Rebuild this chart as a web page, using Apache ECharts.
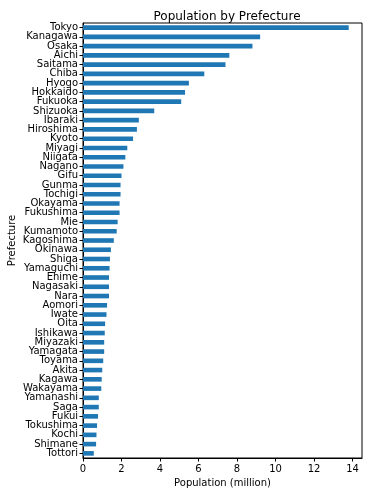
<!DOCTYPE html>
<html><head><meta charset="utf-8">
<script src="https://cdn.jsdelivr.net/npm/echarts@6/dist/echarts.min.js"></script>
<style>html,body{margin:0;padding:0;background:#fff}#c{width:369px;height:496px}</style>
</head><body><div id="c"></div>
<script>
const prefectures = ["Tokyo","Kanagawa","Osaka","Aichi","Saitama","Chiba","Hyogo","Hokkaido","Fukuoka","Shizuoka","Ibaraki","Hiroshima","Kyoto","Miyagi","Niigata","Nagano","Gifu","Gunma","Tochigi","Okayama","Fukushima","Mie","Kumamoto","Kagoshima","Okinawa","Shiga","Yamaguchi","Ehime","Nagasaki","Nara","Aomori","Iwate","Oita","Ishikawa","Miyazaki","Yamagata","Toyama","Akita","Kagawa","Wakayama","Yamanashi","Saga","Fukui","Tokushima","Kochi","Shimane","Tottori"];
const population = [13.8,9.2,8.8,7.6,7.4,6.3,5.5,5.3,5.1,3.7,2.9,2.8,2.6,2.3,2.2,2.1,2.0,1.95,1.95,1.9,1.9,1.8,1.75,1.6,1.45,1.4,1.38,1.35,1.35,1.35,1.25,1.22,1.15,1.13,1.1,1.1,1.05,1.0,0.97,0.95,0.82,0.82,0.78,0.73,0.7,0.68,0.56];
const xTicks = [0,2,4,6,8,10,12,14];
const titleText = "Population by Prefecture";

const chart = echarts.init(document.getElementById('c'), null, {renderer:'canvas'});
const font = "DejaVu Sans";
chart.setOption({
  animation:false,
  backgroundColor:'#fff',
  title:{text:titleText,left:222,textAlign:'center',top:6,textStyle:{fontFamily:font,fontSize:12,fontWeight:'normal',color:'#000'}},
  grid:{left:83,right:7,top:23,bottom:38,containLabel:false,outerBoundsMode:'none',show:true,borderColor:'#000',borderWidth:1,backgroundColor:'transparent'},
  xAxis:{type:'value',min:0,max:14.49,interval:2,
    name:'Population (million)',nameLocation:'middle',nameGap:20,nameMoveOverlap:false,
    nameTextStyle:{fontFamily:font,fontSize:10,color:'#000'},
    axisLine:{show:true,lineStyle:{color:'#000'}},
    axisTick:{show:true,length:3.5,lineStyle:{color:'#000'},customValues:xTicks},
    axisLabel:{fontFamily:font,fontSize:10,color:'#000',margin:6,customValues:xTicks},
    splitLine:{show:false}},
  yAxis:{type:'category',data:prefectures,inverse:true,
    name:'Prefecture',nameLocation:'middle',nameGap:66,nameMoveOverlap:false,
    nameTextStyle:{fontFamily:font,fontSize:10,color:'#000'},
    axisLine:{show:true,lineStyle:{color:'#000'}},
    axisTick:{show:true,length:3.5,alignWithLabel:true,lineStyle:{color:'#000'}},
    axisLabel:{fontFamily:font,fontSize:10,color:'#000',margin:5,interval:0}},
  series:[{type:'bar',data:population,barWidth:'50%',itemStyle:{color:'#1f77b4'}}]
});
</script></body></html>
